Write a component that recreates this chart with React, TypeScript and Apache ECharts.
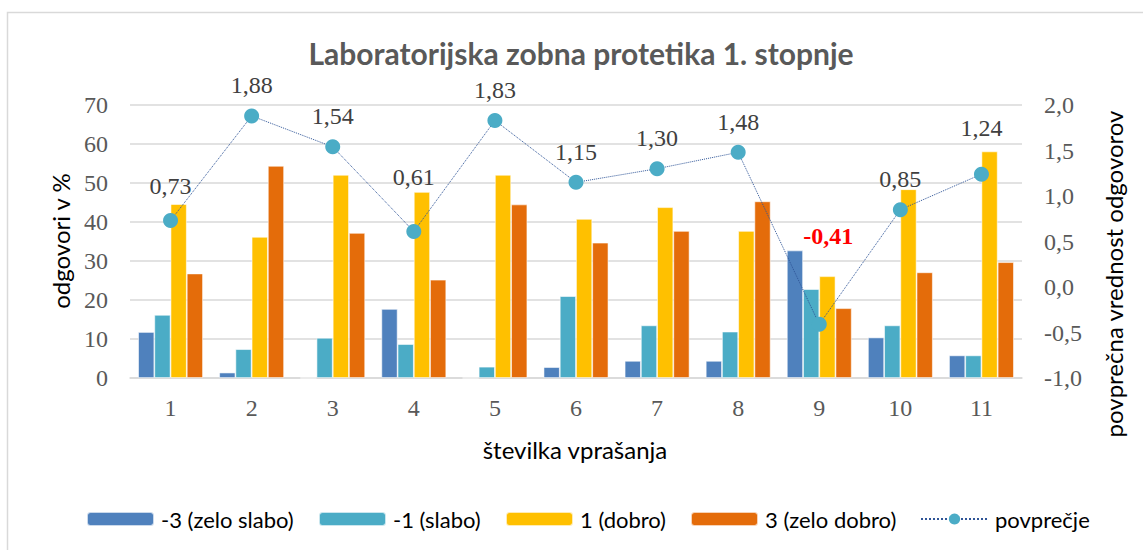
import React, { useEffect, useRef } from "react";
import * as echarts from "echarts";

const categories = ["1", "2", "3", "4", "5", "6", "7", "8", "9", "10", "11"];
const zeloSlabo = [11.8, 1.4, 0, 17.7, 0, 2.8, 4.4, 4.4, 32.7, 10.4, 5.8];
const slabo = [16.2, 7.4, 10.3, 8.7, 2.9, 21.0, 13.5, 11.9, 22.8, 13.5, 5.8];
const dobro = [44.6, 36.2, 52.1, 47.7, 52.1, 40.8, 43.8, 37.7, 26.1, 48.4, 58.1];
const zeloDobro = [26.8, 54.4, 37.2, 25.2, 44.5, 34.7, 37.7, 45.3, 17.9, 27.1, 29.7];
const povprecje = [0.73, 1.88, 1.54, 0.61, 1.83, 1.15, 1.3, 1.48, -0.41, 0.85, 1.24];

const seriesNames = ["-3 (zelo slabo)", "-1 (slabo)", "1 (dobro)", "3 (zelo dobro)", "povprečje"];
const title = "Laboratorijska zobna protetika 1. stopnje";
const xName = "številka vprašanja";
const yLeftName = "odgovori v %";
const yRightName = "povprečna vrednost odgovorov";

export default function App() {
  const ref = useRef<HTMLDivElement>(null);
  useEffect(() => {
    if (!ref.current) return;
    const chart = echarts.init(ref.current, null, { renderer: "svg" });
    const serif = "Liberation Serif";
    const sans = "Lato";
    const barColors = ["#4F81BD", "#4BACC6", "#FFC000", "#E46C0A"];
    const barData = [zeloSlabo, slabo, dobro, zeloDobro];
    const legendLefts = [86, 318, 505, 690, 920];
    const nudge: Record<number, [number, number]> = {
      0: [0, -4],
      3: [0, -24],
      8: [9, -58],
      10: [0, -16],
    };
    const lineData = povprecje.map((v, i) => {
      const item: any = { value: v };
      const n = nudge[i];
      if (n || v < 0) {
        item.label = { offset: n || [0, 0] };
        if (v < 0) {
          item.label.color = "#FF0000";
          item.label.fontWeight = "bold";
        }
      }
      return item;
    });
    const fmt = (v: number) => v.toFixed(2).replace(".", ",");
    chart.setOption({
      animation: false,
      backgroundColor: "#ffffff",
      grid: { left: 130, right: 121, top: 105, bottom: 172 },
      graphic: [
        {
          type: "rect",
          shape: { x: 7.5, y: 12.5, width: 1300, height: 700 },
          style: { fill: "none", stroke: "#D9D9D9", lineWidth: 1.5 },
          silent: true,
          z: -10,
        },
        {
          type: "text",
          x: 581,
          y: 53,
          style: {
            text: title,
            font: `bold 30px ${sans}`,
            fill: "#595959",
            align: "center",
            verticalAlign: "middle",
          },
        },
        {
          type: "text",
          x: 575,
          y: 449,
          style: {
            text: xName,
            font: `24px ${sans}`,
            fill: "#000000",
            align: "center",
            verticalAlign: "middle",
          },
        },
        {
          type: "text",
          x: 60,
          y: 241,
          rotation: Math.PI / 2,
          style: {
            text: yLeftName,
            font: `24px ${sans}`,
            fill: "#000000",
            align: "center",
            verticalAlign: "middle",
          },
        },
        {
          type: "text",
          x: 1113,
          y: 274,
          rotation: Math.PI / 2,
          style: {
            text: yRightName,
            font: `24px ${sans}`,
            fill: "#000000",
            align: "center",
            verticalAlign: "middle",
          },
        },
      ],
      legend: seriesNames.map((name, i) => ({
        left: legendLefts[i],
        top: 508,
        padding: 0,
        itemWidth: 67,
        itemHeight: 14,
        itemGap: 0,
        textStyle: { fontFamily: sans, fontSize: 22, color: "#000000", padding: [0, 0, 0, 2] },
        data: [name],
      })),
      xAxis: {
        type: "category",
        data: categories,
        axisTick: { show: false },
        axisLine: { lineStyle: { color: "#D9D9D9", width: 1.5 } },
        axisLabel: { fontFamily: serif, fontSize: 24, color: "#595959", margin: 18 },
      },
      yAxis: [
        {
          type: "value",
          min: 0,
          max: 70,
          interval: 10,
          axisLine: { show: false },
          axisTick: { show: false },
          splitLine: { lineStyle: { color: "#D9D9D9", width: 1.5 } },
          axisLabel: { fontFamily: serif, fontSize: 24, color: "#595959", margin: 22 },
        },
        {
          type: "value",
          min: -1,
          max: 2,
          interval: 0.5,
          axisLine: { show: false },
          axisTick: { show: false },
          splitLine: { show: false },
          axisLabel: {
            fontFamily: serif,
            fontSize: 24,
            color: "#595959",
            margin: 22,
            formatter: (v: number) => v.toFixed(1).replace(".", ","),
          },
        },
      ],
      series: [
        ...barData.map((d, i) => ({
          name: seriesNames[i],
          type: "bar",
          data: d,
          barGap: "0%",
          barCategoryGap: "20%",
          itemStyle: { color: barColors[i], borderColor: "rgba(255,255,255,0.7)", borderWidth: 0.8 },
        })),
        {
          name: seriesNames[4],
          type: "line",
          yAxisIndex: 1,
          data: lineData,
          symbol: "circle",
          symbolSize: 15,
          z: 5,
          lineStyle: { color: "#2F5597", width: 1, type: "dotted" },
          itemStyle: { color: "#4BACC6" },
          label: {
            show: true,
            position: "top",
            distance: 11,
            fontFamily: serif,
            fontSize: 24,
            color: "#404040",
            formatter: (p: any) => fmt(p.value),
          },
        },
      ],
    });
    return () => chart.dispose();
  }, []);
  return (
    <div
      ref={ref}
      style={{ position: "absolute", left: 0, top: 0, width: 1143, height: 550 }}
    />
  );
}
